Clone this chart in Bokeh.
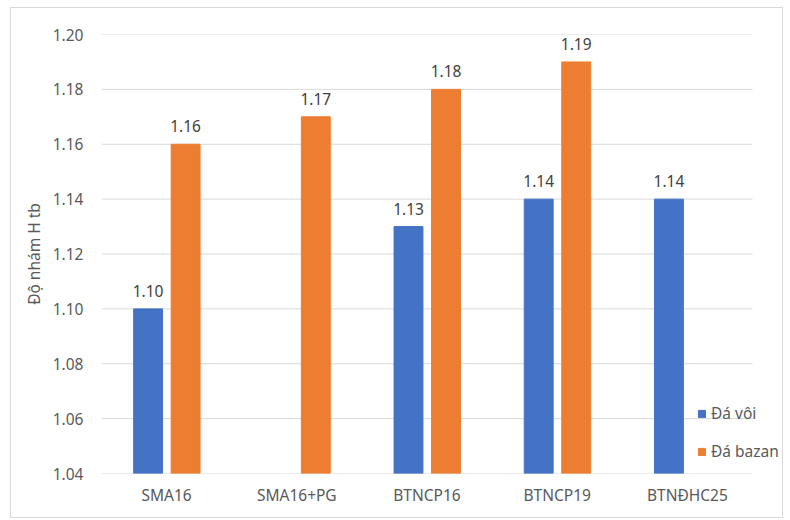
from bokeh.plotting import figure
from bokeh.models import Range1d, ColumnDataSource, Legend, LegendItem, FixedTicker, CustomJSTickFormatter, InlineStyleSheet
from bokeh.core.properties import value
from bokeh.embed import file_html
from bokeh.resources import INLINE

categories = ["SMA16", "SMA16+PG", "BTNCP16", "BTNCP19", "BTNĐHC25"]
da_voi = [1.10, None, 1.13, 1.14, 1.14]
da_bazan = [1.16, 1.17, 1.18, 1.19, None]
series_names = ["Đá vôi", "Đá bazan"]
y_ticks = [1.04, 1.06, 1.08, 1.10, 1.12, 1.14, 1.16, 1.18, 1.20]

BLUE = "#4472C4"
ORANGE = "#ED7D31"
GRID = "#d9d9d9"
FONT = "Noto Sans"
FS = "15.5px"

n = len(categories)
cat_px = 651 / n
frame_w = 681
x_end = frame_w / cat_px

p = figure(x_range=Range1d(0, x_end), y_range=Range1d(y_ticks[0], y_ticks[-1]),
           frame_width=frame_w, frame_height=439,
           min_border_left=101, min_border_right=8, min_border_top=34, min_border_bottom=47,
           output_backend="svg", toolbar_location=None)
p.outline_line_color = None
p.background_fill_color = "white"
p.border_fill_color = "white"

base = y_ticks[0]

# gridlines (only across the category area)
p.segment(x0=[0] * len(y_ticks), x1=[n] * len(y_ticks), y0=y_ticks, y1=y_ticks,
          line_color=GRID, line_width=1)

def series_source(vals, off):
    xs = [i + 0.5 + off for i, v in enumerate(vals) if v is not None]
    ys = [v for v in vals if v is not None]
    return ColumnDataSource(dict(x=xs, top=ys, lbl=["%.2f" % v for v in ys]))

OFF_V, OFF_B, W = -0.142, 0.146, 0.222
src_v = series_source(da_voi, OFF_V)
src_b = series_source(da_bazan, OFF_B)

r_v = p.vbar(x="x", top="top", bottom=base, width=W, source=src_v, fill_color=BLUE, line_color=BLUE)
r_b = p.vbar(x="x", top="top", bottom=base, width=W, source=src_b, fill_color=ORANGE, line_color=ORANGE)

for src in (src_v, src_b):
    p.text(x="x", y="top", text="lbl", source=src,
           text_align="center", text_baseline="bottom", y_offset=-12,
           text_font=value(FONT), text_font_size=FS, text_color="#404040")

# y axis
p.yaxis.ticker = FixedTicker(ticks=y_ticks)
p.yaxis.formatter = CustomJSTickFormatter(code="return tick.toFixed(2);")
p.yaxis.axis_line_color = None
p.yaxis.major_tick_line_color = None
p.yaxis.minor_tick_line_color = None
p.yaxis.major_label_standoff = 12
p.yaxis.major_label_text_font = FONT
p.yaxis.major_label_text_font_size = FS
p.yaxis.major_label_text_color = "#595959"
p.yaxis.axis_label = "Độ nhám H tb"
p.yaxis.axis_label_text_font = FONT
p.yaxis.axis_label_text_font_size = FS
p.yaxis.axis_label_text_font_style = "normal"
p.yaxis.axis_label_text_color = "#595959"
p.yaxis.axis_label_standoff = 5

# x axis with category labels
p.xaxis.ticker = FixedTicker(ticks=[i + 0.5 for i in range(n)])
p.xaxis.major_label_overrides = {i + 0.5: c for i, c in enumerate(categories)}
p.xaxis.axis_line_color = None
p.xaxis.major_tick_line_color = None
p.xaxis.minor_tick_line_color = None
p.xaxis.major_label_standoff = 4
p.xaxis.major_label_text_font = FONT
p.xaxis.major_label_text_font_size = FS
p.xaxis.major_label_text_color = "#595959"

p.xgrid.grid_line_color = None
p.ygrid.grid_line_color = None

legend = Legend(items=[LegendItem(label=series_names[0], renderers=[r_v]),
                       LegendItem(label=series_names[1], renderers=[r_b])],
                location=(596, 11), orientation="vertical",
                glyph_width=9, glyph_height=9, label_height=20, spacing=16,
                padding=0, margin=0, label_standoff=5,
                label_text_font=FONT, label_text_font_size=FS, label_text_color="#595959",
                background_fill_alpha=0, border_line_alpha=0)
p.add_layout(legend, "center")

# outer chart border
p.stylesheets = [InlineStyleSheet(css="""
:host::after {
  content: '';
  position: absolute;
  left: 10px; top: 7px; width: 773px; height: 511px;
  border: 1px solid #d9d9d9;
  box-sizing: border-box;
  pointer-events: none;
  z-index: 10;
}
""")]

open("out.html", "w").write(file_html(p, INLINE))
